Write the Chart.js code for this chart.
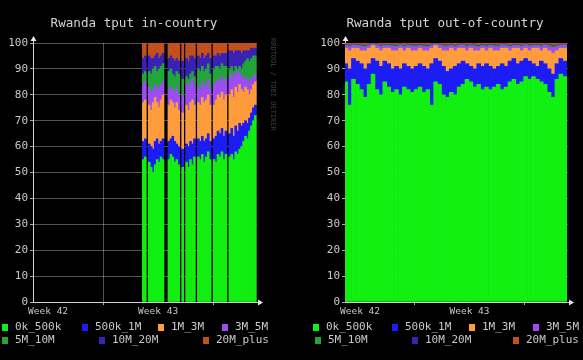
<!DOCTYPE html>
<html>
<head>
<meta charset="utf-8">
<script src="https://cdn.jsdelivr.net/npm/chart.js@4.4.1/dist/chart.umd.min.js"></script>
<style>
  html, body { margin: 0; padding: 0; background: #000; }
  #wrap { position: relative; width: 583px; height: 360px; overflow: hidden; background: #000; }
  canvas { position: absolute; top: 0; }
  #inCountry { left: 0; }
  #outCountry { left: 292px; }
</style>
</head>
<body>
<div id="wrap">
  <canvas id="inCountry" width="292" height="360"></canvas>
  <canvas id="outCountry" width="291" height="360"></canvas>
</div>
<script>
// throughput buckets, bottom of the stack first
const seriesNames = ["0k_500k", "500k_1M", "1M_3M", "3M_5M", "5M_10M", "10M_20M", "20M_plus"];
const seriesColors = ["#12f012", "#1c1cf6", "#ff9c3c", "#9e4cf4", "#22a63c", "#3a22b8", "#c4501e"];

// x axis in hours from the left edge of the graph
const xTickHours = [23, 107, 191, 275];
const gridHours = [107, 275];
const weekLabels = { 23: "Week 42", 191: "Week 43" };

// in-country samples (3h steps, null = no data)
const inHours = [168.5, 171.5, 174.5, 177.5, 180.5, 183.5, 186.5, 189.5, 192.5, 195.5,
  198.5, 201.5, 204.5, 207.5, 210.5, 213.5, 216.5, 219.5, 222.5, 225.5,
  228.5, 231.5, 234.5, 237.5, 240.5, 243.5, 246.5, 249.5, 252.5, 255.5,
  258.5, 261.5, 264.5, 267.5, 270.5, 273.5, 276.5, 279.5, 282.5, 285.5,
  288.5, 291.5, 294.5, 297.5, 300.5, 303.5, 306.5, 309.5, 312.5, 315.5,
  318.5, 321.5, 324.5, 327.5, 330.5, 333.5, 336.5, 339.5];
const n = null;
const in0k_500k = [55, 56, n, 54, 52, 50, 53, 55, 54, 56, 55, n, n, 55, 57, 56, 54, 55, 53, n, 52, n, 54, 52, 55, 53, 56, n, 56, 55, 57, 54, 56, 58, 55, n, 55, 54, 57, 56, 58, 55, 57, n, 56, 57, 55, 58, 57, 59, 60, 62, 64, 63, 66, 68, 70, 72];
const in500k_1M = [7, 7, n, 7, 8, 9, 9, 8, 7, 6, 8, n, n, 7, 6, 8, 8, 6, 7, n, 7, n, 7, 8, 7, 8, 7, n, 7, 7, 7, 8, 7, 7, 7, n, 8, 10, 9, 9, 9, 9, 9, n, 9, 10, 9, 10, 9, 10, 8, 7, 6, 6, 5, 5, 5, 4];
const in1M_3M = [15, 15, n, 15, 14, 18, 17, 14, 14, 16, 17, n, n, 14, 15, 13, 13, 16, 14, n, 14, n, 15, 14, 15, 17, 13, n, 14, 14, 15, 15, 15, 15, 14, n, 13, 14, 14, 14, 14, 14, 14, n, 15, 15, 15, 15, 15, 15, 14, 12, 13, 13, 9, 9, 9, 9];
const in3M_5M = [7, 7, n, 7, 7, 5, 5, 6, 7, 6, 5, n, n, 6, 5, 5, 6, 6, 6, n, 7, n, 8, 9, 8, 8, 8, n, 6, 6, 6, 6, 6, 6, 6, n, 8, 7, 6, 6, 6, 7, 6, n, 7, 6, 7, 6, 7, 5, 5, 5, 4, 4, 5, 4, 3, 3];
const in5M_10M = [4, 4, n, 6, 7, 8, 7, 6, 8, 7, 7, n, n, 7, 7, 6, 6, 6, 8, n, 6, n, 3, 3, 3, 3, 3, n, 7, 7, 6, 6, 6, 6, 6, n, 6, 6, 5, 5, 5, 6, 5, n, 3, 3, 3, 2, 2, 2, 3, 6, 6, 8, 8, 8, 8, 7];
const in10M_20M = [6, 6, n, 6, 6, 4, 4, 7, 4, 4, 4, n, n, 5, 5, 6, 6, 5, 5, n, 7, n, 7, 7, 7, 6, 7, n, 5, 5, 5, 5, 5, 4, 6, n, 5, 4, 5, 5, 4, 5, 5, n, 7, 6, 7, 6, 7, 6, 6, 5, 4, 3, 4, 4, 3, 3];
const in20M_plus = [6, 5, n, 5, 6, 6, 5, 4, 6, 5, 4, n, n, 6, 5, 6, 7, 6, 7, n, 7, n, 6, 7, 5, 5, 6, n, 5, 6, 4, 6, 5, 4, 6, n, 5, 5, 4, 5, 4, 4, 4, n, 3, 3, 4, 3, 3, 3, 4, 3, 3, 3, 3, 2, 2, 2];

// out-of-country samples (6h steps)
const outHours = [1, 7, 13, 19, 25, 31, 37, 43, 49, 55, 61, 67, 73, 79, 85, 91, 97, 103, 109, 115,
  121, 127, 133, 139, 145, 151, 157, 163, 169, 175, 181, 187, 193, 199, 205, 211, 217, 223, 229, 235,
  241, 247, 253, 259, 265, 271, 277, 283, 289, 295, 301, 307, 313, 319, 325, 331, 337];
const out0k_500k = [85, 76, 86, 84, 82, 79, 84, 88, 82, 80, 85, 83, 81, 82, 80, 83, 82, 81, 82, 83, 81, 82, 76, 85, 84, 80, 79, 81, 80, 83, 84, 86, 85, 83, 84, 82, 83, 82, 83, 84, 82, 83, 85, 86, 84, 85, 87, 86, 87, 86, 85, 84, 81, 79, 86, 88, 87];
const out500k_1M = [7, 14, 8, 9, 10, 11, 8, 6, 11, 11, 8, 9, 9, 9, 10, 9, 9, 9, 9, 9, 10, 8, 16, 9, 9, 11, 10, 9, 11, 9, 9, 6, 6, 7, 8, 9, 9, 9, 7, 7, 10, 8, 8, 8, 8, 8, 7, 7, 5, 5, 8, 8, 9, 9, 6, 6, 6];
const out1M_3M = [6, 7, 4, 5, 5, 7, 6, 5, 5, 6, 5, 6, 7, 6, 8, 5, 7, 7, 6, 6, 6, 7, 6, 5, 5, 6, 8, 8, 6, 6, 5, 5, 7, 7, 5, 7, 5, 7, 7, 6, 6, 7, 4, 4, 6, 4, 4, 4, 6, 7, 4, 6, 7, 8, 5, 4, 5];
const out3M_5M = [1.0, 1.5, 1.1, 0.9, 1.6, 1.4, 1.0, 0.5, 1.1, 1.5, 0.9, 1.0, 1.6, 1.5, 1.1, 1.4, 1.0, 1.6, 1.5, 0.9, 1.5, 1.4, 1.0, 0.5, 1.1, 1.6, 1.5, 0.9, 1.4, 1.0, 1.1, 1.5, 1.0, 1.6, 1.4, 0.9, 1.5, 1.0, 1.6, 1.5, 1.1, 1.0, 1.4, 0.9, 1.0, 1.5, 1.1, 1.6, 1.0, 0.9, 1.5, 1.1, 1.6, 2.0, 1.5, 1.0, 1.1];
const out5M_10M = [.3, .4, .3, .3, .4, .4, .3, .2, .3, .4, .3, .3, .4, .4, .3, .4, .3, .4, .4, .3, .4, .4, .3, .2, .3, .4, .4, .3, .4, .3, .3, .4, .3, .4, .4, .3, .4, .3, .4, .4, .3, .3, .4, .3, .3, .4, .3, .4, .3, .3, .4, .3, .4, .6, .4, .3, .3];
const out10M_20M = [.2, .3, .2, .2, .3, .3, .2, .1, .2, .3, .2, .2, .3, .3, .2, .3, .2, .3, .3, .2, .3, .3, .2, .1, .2, .3, .3, .2, .3, .2, .2, .3, .2, .3, .3, .2, .3, .2, .3, .3, .2, .2, .3, .2, .2, .3, .2, .3, .2, .2, .3, .2, .3, .4, .3, .2, .2];
const out20M_plus = [.5, .8, .4, .6, .7, .9, .5, .2, .4, .8, .6, .5, .7, .8, .4, .9, .5, .7, .8, .6, .8, .9, .5, .2, .4, .7, .8, .6, .9, .5, .4, .8, .5, .7, .9, .6, .8, .5, .7, .8, .4, .5, .9, .6, .5, .8, .4, .7, .5, .6, .8, .4, .7, 1.0, .8, .5, .4];

const mono = '"DejaVu Sans Mono", "Liberation Mono", monospace';
const textColor = "#c8c8c8";
const gridColor = "rgba(255,255,255,0.32)";
const axisColor = "#d0d0d0";

// titles, arrows, legend and watermark, drawn the rrdtool way
function rrdDecor(cfg) {
  return {
    id: "rrdDecor",
    afterDraw(chart) {
      const ctx = chart.ctx, a = chart.chartArea;
      ctx.save();
      ctx.fillStyle = "#d4d4d4";
      ctx.font = "12.6px " + mono;
      ctx.textAlign = "center";
      ctx.textBaseline = "middle";
      ctx.fillText(cfg.title, cfg.titleX, 24);

      // axis arrows
      ctx.fillStyle = "#e8e8e8";
      ctx.strokeStyle = axisColor;
      ctx.lineWidth = 1;
      ctx.beginPath();
      ctx.moveTo(a.left + 0.5, a.top);
      ctx.lineTo(a.left + 0.5, a.top - 3);
      ctx.moveTo(a.right, a.bottom + 0.5);
      ctx.lineTo(a.right + 2, a.bottom + 0.5);
      ctx.stroke();
      ctx.beginPath();
      ctx.moveTo(a.left - 2.5, a.top - 2);
      ctx.lineTo(a.left + 3.5, a.top - 2);
      ctx.lineTo(a.left + 0.5, a.top - 7);
      ctx.closePath();
      ctx.fill();
      ctx.beginPath();
      ctx.moveTo(a.right + 1, a.bottom - 2.5);
      ctx.lineTo(a.right + 1, a.bottom + 3.5);
      ctx.lineTo(a.right + 6, a.bottom + 0.5);
      ctx.closePath();
      ctx.fill();

      // legend
      ctx.font = "11px " + mono;
      ctx.textAlign = "left";
      cfg.legend.forEach((item, k) => {
        ctx.fillStyle = seriesColors[k];
        ctx.fillRect(item[0], item[1] - 3, 6, 7);
        ctx.fillStyle = textColor;
        ctx.fillText(seriesNames[k], item[0] + 13, item[1] + 0.5);
      });

      if (cfg.watermark) {
        ctx.translate(273, 38);
        ctx.rotate(Math.PI / 2);
        ctx.font = "7px " + mono;
        ctx.fillStyle = "#3e3e3e";
        ctx.textBaseline = "middle";
        ctx.fillText("RRDTOOL / TOBI OETIKER", 0, 0);
      }
      ctx.restore();
    }
  };
}

function makeChart(id, hours, series, cfg) {
  const datasets = seriesNames.map((name, k) => ({
    label: name,
    data: hours.map((h, i) => ({ x: h, y: series[k][i] })),
    backgroundColor: seriesColors[k],
    borderWidth: 0,
    barPercentage: 1,
    categoryPercentage: 1,
    stack: "share"
  }));

  return new Chart(document.getElementById(id), {
    type: "bar",
    data: { datasets },
    options: {
      responsive: false,
      animation: false,
      devicePixelRatio: 1,
      layout: { padding: { left: 0, right: cfg.padRight, top: 43, bottom: 0 } },
      plugins: { legend: { display: false }, tooltip: { enabled: false } },
      scales: {
        x: {
          type: "linear",
          min: 0,
          max: 342,
          stacked: true,
          offset: false,
          z: 1,
          afterFit: s => { s.height = 58; },
          afterBuildTicks: s => { s.ticks = xTickHours.map(v => ({ value: v })); },
          grid: {
            offset: false,
            color: c => (c.tick && gridHours.includes(c.tick.value)) ? gridColor : "transparent",
            tickColor: c => (c.tick && gridHours.includes(c.tick.value)) ? "#aaaaaa" : "transparent",
            tickLength: 3
          },
          border: { color: axisColor, width: 1 },
          ticks: {
            autoSkip: false,
            maxRotation: 0,
            padding: 1,
            color: textColor,
            font: { family: mono, size: 9.5 },
            callback: v => weekLabels[v] || ""
          }
        },
        y: {
          min: 0,
          max: 100,
          stacked: true,
          z: 1,
          afterFit: s => { s.width = cfg.yWidth; },
          grid: { color: gridColor, tickColor: "#aaaaaa", tickLength: 3 },
          border: { color: axisColor, width: 1 },
          ticks: { stepSize: 10, padding: 2, color: textColor, font: { family: mono, size: 11 } }
        }
      }
    },
    plugins: [rrdDecor(cfg)]
  });
}

makeChart("inCountry", inHours,
  [in0k_500k, in500k_1M, in1M_3M, in3M_5M, in5M_10M, in10M_20M, in20M_plus],
  {
    title: "Rwanda tput in-country", titleX: 134, yWidth: 33, padRight: 35, watermark: true,
    legend: [[2, 327], [82, 327], [158, 327], [222, 327], [2, 340], [99, 340], [203, 340]]
  });

makeChart("outCountry", outHours,
  [out0k_500k, out500k_1M, out1M_3M, out3M_5M, out5M_10M, out10M_20M, out20M_plus],
  {
    title: "Rwanda tput out-of-country", titleX: 153, yWidth: 53, padRight: 15, watermark: false,
    legend: [[21, 327], [100, 327], [177, 327], [241, 327], [23, 340], [120, 340], [221, 340]]
  });
</script>
</body>
</html>
